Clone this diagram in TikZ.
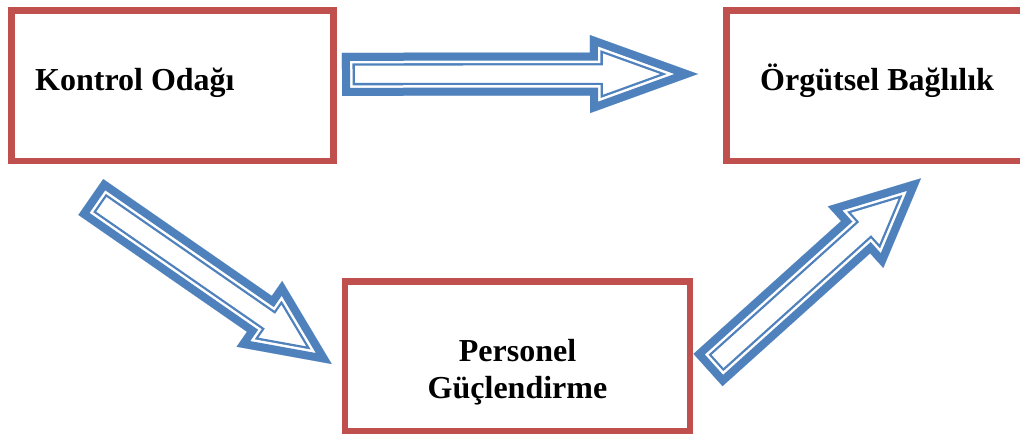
\documentclass[tikz,border=0pt]{standalone}
\usepackage{fontspec}
\setmainfont{Liberation Serif}
\usetikzlibrary{calc}

\definecolor{boxred}{HTML}{C0504D}
\definecolor{arrowblue}{HTML}{4F81BD}

% Hollow block arrow from #1 to #2: head length #3, head half-width #4,
% shaft half-width #5; outlined with a thick-thin double line drawn inside.
\newcommand\blockarrow[5]{%
  \begin{scope}
    \coordinate (hb) at ($(#2)!#3!(#1)$);
    \def\arrowoutline{($(#1)!#5!90:(#2)$) -- ($(hb)!#5!90:(#2)$) --
      ($(hb)!#4!90:(#2)$) -- (#2) -- ($(hb)!#4!-90:(#2)$) --
      ($(hb)!#5!-90:(#2)$) -- ($(#1)!#5!-90:(#2)$) -- cycle}
    \clip \arrowoutline;
    \draw[arrowblue, line width=25.6pt, line join=miter] \arrowoutline;
    \draw[white, line width=21pt, line join=miter] \arrowoutline;
    \draw[arrowblue, line width=16pt, line join=miter] \arrowoutline;
  \end{scope}}

\tikzset{
  box/.style={draw=boxred, line width=6.5pt, inner sep=0pt, rectangle},
  label/.style={font=\fontsize{32}{36.7}\selectfont\bfseries, inner sep=0pt}
}

\begin{document}
\begin{tikzpicture}[x=1pt, y=-1pt]
  \useasboundingbox (0,0) rectangle (1020,434);
  \clip (0,0) rectangle (1020,434);

  % boxes
  \node[box, minimum width=322pt, minimum height=150.5pt] (kontrol) at (172.5,85.75) {};
  \node[box, minimum width=297.3pt, minimum height=150.5pt] (orgutsel) at (875.35,85.75) {};
  \node[box, minimum width=345pt, minimum height=149.5pt] (personel) at (517.5,356.25) {};

  % labels
  \node[label, anchor=base west] (kontrol-t) at (35,90) {Kontrol Odağı};
  \node[label, anchor=base west] (orgutsel-t) at (760,90.7) {Örgütsel Bağlılık};
  \node[label, anchor=base] (personel-t1) at (517.5,361.7) {Personel};
  \node[label, anchor=base] (personel-t2) at (517.5,398.3) {Güçlendirme};

  % arrow end points
  \coordinate (a1s) at (342,74.3);
  \coordinate (a1e) at (698,74);
  \coordinate (a2s) at (90.8,197);
  \coordinate (a2e) at (331.7,364);
  \coordinate (a3s) at (708,370);
  \coordinate (a3e) at (921,178.3);

  \blockarrow{a1s}{a1e}{108pt}{39pt}{21.5pt}
  \blockarrow{a2s}{a2e}{88pt}{40pt}{21.8pt}
  \blockarrow{a3s}{a3e}{88pt}{41.4pt}{21.7pt}
\end{tikzpicture}
\end{document}
